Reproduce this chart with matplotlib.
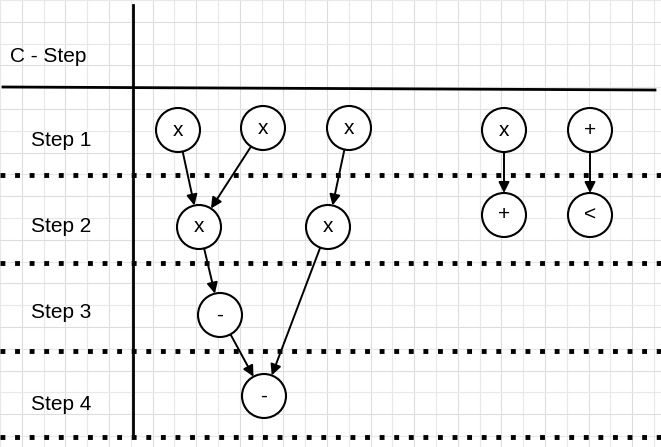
import numpy as np
import matplotlib.pyplot as plt
from matplotlib.patches import Circle, FancyArrowPatch

plt.rcParams["font.family"] = ["Liberation Sans", "DejaVu Sans"]

row_labels = ["C - Step", "Step 1", "Step 2", "Step 3", "Step 4"]
row_label_y = [56, 140, 226, 313, 405]
node_ops = ["x", "x", "x", "x", "+", "x", "x", "+", "<", "-", "-"]
node_x = [178, 263, 349, 504, 590, 199, 328, 504, 590, 220, 264]
node_y = [130, 128, 128, 130, 130, 227, 227, 215, 215, 315, 396]
edges = [(0, 5), (1, 5), (2, 6), (3, 7), (4, 8), (5, 9), (9, 10), (6, 10)]
sep_y = [175, 263, 351, 437]

W, H = 661, 447
fig = plt.figure(figsize=(W / 100, H / 100), dpi=100)
ax = fig.add_axes([0, 0, 1, 1])
ax.set_xlim(0, W)
ax.set_ylim(H, 0)
ax.axis("off")

# background grid
for i, g in enumerate(np.arange(0, W, 21.8)):
    ax.axvline(g, color="#dddddd" if i % 2 else "#e8e8e8", lw=0.8, zorder=0)
for i, g in enumerate(np.arange(0, H, 21.8)):
    ax.axhline(g, color="#dddddd" if i % 2 else "#e8e8e8", lw=0.8, zorder=0)

ax.plot([133, 133], [5, 437], color="black", lw=2)
ax.plot([3, 655], [87, 90], color="black", lw=2)
for y in sep_y:
    ax.plot([0, 661], [y, y], color="black", lw=3.5, ls=(0, (1, 2)))

for lab, y in zip(row_labels, row_label_y):
    ax.text(10 if lab.startswith("C") else 31, y, lab, fontsize=15, va="center", ha="left")

r = 22
for op, x, y in zip(node_ops, node_x, node_y):
    ax.add_patch(Circle((x, y), r, fc="white", ec="black", lw=1.5, zorder=3))
    ax.text(x, y, op, fontsize=15, ha="center", va="center", zorder=4)

for a, b in edges:
    x0, y0, x1, y1 = node_x[a], node_y[a], node_x[b], node_y[b]
    d = np.hypot(x1 - x0, y1 - y0)
    ux, uy = (x1 - x0) / d, (y1 - y0) / d
    ax.add_patch(FancyArrowPatch((x0 + ux * r, y0 + uy * r), (x1 - ux * r, y1 - uy * r),
                                 arrowstyle="-|>", mutation_scale=16, color="black",
                                 lw=1.4, shrinkA=0, shrinkB=0, zorder=2))

fig.savefig("out.png", dpi=100)
